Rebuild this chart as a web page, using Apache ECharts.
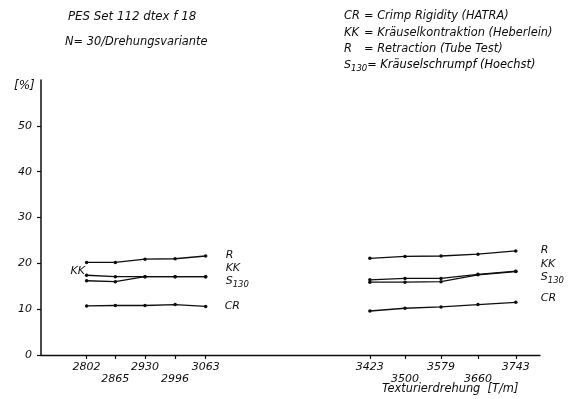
<!DOCTYPE html>
<html>
<head>
<meta charset="utf-8">
<script src="https://cdn.jsdelivr.net/npm/echarts@6/dist/echarts.min.js"></script>
<style>
  html, body { margin: 0; padding: 0; background: #fff; }
  #chart { width: 569px; height: 399px; }
</style>
</head>
<body>
<div id="chart"></div>
<script>
// Texturing twist levels [T/m], two trial groups
const twistLow = [2802, 2865, 2930, 2996, 3063];
const twistHigh = [3423, 3500, 3579, 3660, 3743];

// Crimp measurements [%] per twist level
const retractionLow = [20.2, 20.2, 20.9, 21.0, 21.6];
const retractionHigh = [21.1, 21.5, 21.6, 22.0, 22.7];
const kkLow = [17.4, 17.1, 17.1, 17.1, 17.1];
const kkHigh = [16.4, 16.7, 16.7, 17.6, 18.3];
const s130Low = [16.2, 16.0, 17.1, 17.1, 17.1];
const s130High = [15.9, 15.9, 16.0, 17.5, 18.2];
const crLow = [10.7, 10.8, 10.8, 11.0, 10.6];
const crHigh = [9.6, 10.2, 10.5, 11.0, 11.5];

// Axis ticks
const yTicks = [0, 10, 20, 30, 40, 50];
const twistTicks = twistLow.concat(twistHigh);
const twistLowered = [2865, 2996, 3500, 3660];

const INK = '#0e0e0e';
const FONT = 'DejaVu Sans';
const txt = (size) => 'italic ' + size + 'px "' + FONT + '"';

const richS = {
  s: { fontSize: 11, fontStyle: 'italic', fontFamily: FONT, color: INK },
  sub: { fontSize: 8.5, fontStyle: 'italic', fontFamily: FONT, color: INK, padding: [6, 0, 0, 0] },
  t: { fontSize: 11.4, fontStyle: 'italic', fontFamily: FONT, color: INK }
};

function pairs(xs, ys) {
  return xs.map((x, i) => [x, ys[i]]);
}

function makeSeries(xs, ys, endText, endOffset, firstLabel) {
  const data = pairs(xs, ys).map((p, i) => {
    if (i === 0 && firstLabel) {
      return {
        value: p,
        label: {
          show: true, position: 'left', distance: 0, offset: [0, -4],
          formatter: firstLabel, color: INK, fontSize: 11,
          fontStyle: 'italic', fontFamily: FONT
        }
      };
    }
    return p;
  });
  return {
    type: 'line',
    data: data,
    symbol: 'circle',
    symbolSize: 3.5,
    lineStyle: { color: INK, width: 1.3 },
    itemStyle: { color: INK },
    label: { show: false },
    emphasis: { disabled: true },
    endLabel: {
      show: true,
      formatter: endText,
      offset: endOffset,
      distance: 0,
      color: INK,
      fontSize: 11,
      fontStyle: 'italic',
      fontFamily: FONT,
      rich: richS
    }
  };
}

const chart = echarts.init(document.getElementById('chart'), null, { renderer: 'canvas' });

chart.setOption({
  animation: false,
  backgroundColor: '#fff',
  grid: { left: 41, right: 29, top: 80, bottom: 44 },
  xAxis: {
    type: 'value',
    min: 2702,
    max: 3796,
    splitLine: { show: false },
    axisLine: { show: true, lineStyle: { color: INK, width: 1.3 } },
    axisTick: { show: true, customValues: twistTicks, length: 4, lineStyle: { color: INK, width: 1.2 } },
    axisLabel: {
      customValues: twistTicks,
      margin: 6,
      color: INK,
      fontSize: 11,
      lineHeight: 12,
      fontStyle: 'italic',
      fontFamily: FONT,
      formatter: (v) => (twistLowered.indexOf(v) >= 0 ? '\n' + v : String(v))
    }
  },
  yAxis: {
    type: 'value',
    min: 0,
    max: 60,
    interval: 10,
    splitLine: { show: false },
    axisLine: { show: true, lineStyle: { color: INK, width: 1.5 } },
    axisTick: { show: true, customValues: yTicks, length: 4, lineStyle: { color: INK, width: 1.2 } },
    axisLabel: {
      customValues: yTicks,
      margin: 9,
      color: INK,
      fontSize: 11,
      fontStyle: 'italic',
      fontFamily: FONT
    }
  },
  series: [
    makeSeries(twistLow, retractionLow, 'R', [20, -1]),
    makeSeries(twistLow, kkLow, 'KK', [20, -8], 'KK'),
    makeSeries(twistLow, s130Low, '{s|S}{sub|130}', [20, 5]),
    makeSeries(twistLow, crLow, 'CR', [19, 0]),
    makeSeries(twistHigh, retractionHigh, 'R', [25, -1]),
    makeSeries(twistHigh, kkHigh, 'KK', [25, -7]),
    makeSeries(twistHigh, s130High, '{s|S}{sub|130}', [25, 6]),
    makeSeries(twistHigh, crHigh, 'CR', [25, -4])
  ],
  graphic: [
    { type: 'text', left: 68, top: 11, style: { text: 'PES Set 112 dtex f 18', font: txt(11.8), fill: INK } },
    { type: 'text', left: 65, top: 37, style: { text: 'N= 30/Drehungsvariante', font: txt(11.4), fill: INK } },
    { type: 'text', left: 14, top: 80, style: { text: '[%]', font: txt(12), fill: INK } },

    { type: 'text', left: 344, top: 11, style: { text: 'CR', font: txt(11.4), fill: INK } },
    { type: 'text', left: 364, top: 11, style: { text: '= Crimp Rigidity (HATRA)', font: txt(11.4), fill: INK } },
    { type: 'text', left: 344, top: 28, style: { text: 'KK', font: txt(11.4), fill: INK } },
    { type: 'text', left: 364, top: 28, style: { text: '= Kräuselkontraktion (Heberlein)', font: txt(11.4), fill: INK } },
    { type: 'text', left: 344, top: 44, style: { text: 'R', font: txt(11.4), fill: INK } },
    { type: 'text', left: 364, top: 44, style: { text: '= Retraction (Tube Test)', font: txt(11.4), fill: INK } },
    { type: 'text', left: 344, top: 60, style: { text: '{s|S}{sub|130}{t|= Kräuselschrumpf (Hoechst)}', rich: richS } },

    { type: 'text', left: 382, top: 384, style: { text: 'Texturierdrehung  [T/m]', font: txt(11.4), fill: INK } }
  ]
});
</script>
</body>
</html>
